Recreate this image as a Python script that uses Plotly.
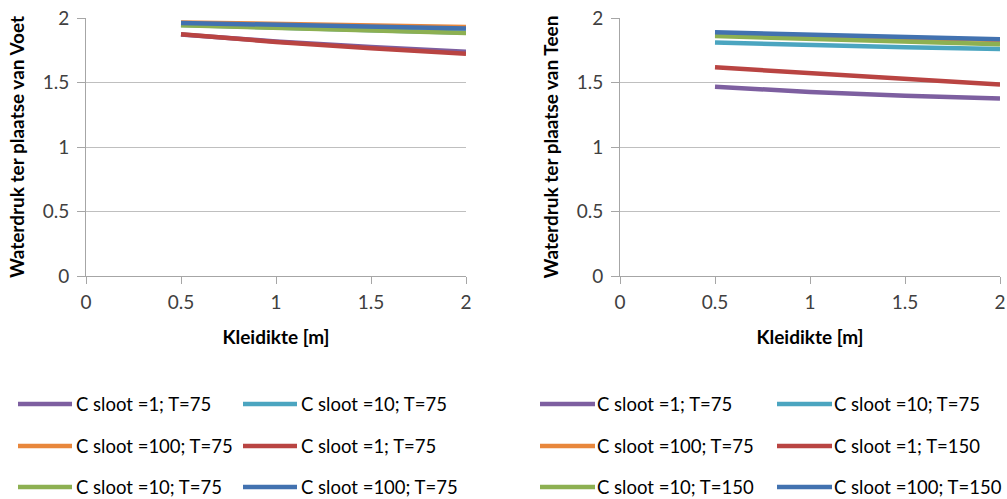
import plotly.graph_objects as go

# Kleidikte (clay thickness) in metres
kleidikte = [0.5, 1.0, 1.5, 2.0]

# Water pressure at the toe of the slope ("Voet")
voet_names = ["C sloot =1; T=75", "C sloot =10; T=75", "C sloot =100; T=75",
              "C sloot =1; T=75", "C sloot =10; T=75", "C sloot =100; T=75"]
voet_c1_a = [1.872, 1.818, 1.776, 1.738]
voet_c10_a = [1.945, 1.924, 1.904, 1.886]
voet_c100_a = [1.966, 1.954, 1.942, 1.931]
voet_c1_b = [1.874, 1.814, 1.765, 1.722]
voet_c10_b = [1.944, 1.923, 1.903, 1.884]
voet_c100_b = [1.962, 1.947, 1.932, 1.918]

# Water pressure at the heel ("Teen")
teen_names = ["C sloot =1; T=75", "C sloot =10; T=75", "C sloot =100; T=75",
              "C sloot =1; T=150", "C sloot =10; T=150", "C sloot =100; T=150"]
teen_c1_75 = [1.468, 1.426, 1.398, 1.376]
teen_c10_75 = [1.810, 1.790, 1.774, 1.760]
teen_c100_75 = [1.874, 1.858, 1.844, 1.830]
teen_c1_150 = [1.618, 1.572, 1.524, 1.484]
teen_c10_150 = [1.860, 1.838, 1.816, 1.797]
teen_c100_150 = [1.889, 1.870, 1.852, 1.835]

y_ticks = [0, 0.5, 1, 1.5, 2]
x_ticks = [0, 0.5, 1, 1.5, 2]

colors = ["#7D5FA0", "#4BA5C0", "#E8873C", "#B94442", "#8DB052", "#4272B0"]

voet_series = [voet_c1_a, voet_c10_a, voet_c100_a, voet_c1_b, voet_c10_b, voet_c100_b]
teen_series = [teen_c1_75, teen_c10_75, teen_c100_75, teen_c1_150, teen_c10_150, teen_c100_150]

W, H = 1007, 499
FONT = "Lato"


def px(x):
    return x / W


def py(y):
    return 1 - y / H


fig = go.Figure()

for vals, name, col in zip(voet_series, voet_names, colors):
    fig.add_trace(go.Scatter(x=kleidikte, y=vals, name=name, mode="lines",
                             line=dict(color=col, width=4.5),
                             xaxis="x", yaxis="y", showlegend=False))
for vals, name, col in zip(teen_series, teen_names, colors):
    fig.add_trace(go.Scatter(x=kleidikte, y=vals, name=name, mode="lines",
                             line=dict(color=col, width=4.5),
                             xaxis="x2", yaxis="y2", showlegend=False))

axis_common = dict(
    range=[0, 2], tickvals=x_ticks, ticks="outside", ticklen=7,
    tickcolor="#A6A6A6", linecolor="#A6A6A6", linewidth=1, showline=True,
    showgrid=False, zeroline=False, fixedrange=True, automargin=False,
    ticklabelstandoff=2,
    tickfont=dict(family=FONT, size=19, color="#404040"),
)
yaxis_common = dict(
    range=[0, 2], tickvals=y_ticks, ticks="outside", ticklen=8,
    tickcolor="#A6A6A6", linecolor="#A6A6A6", linewidth=1, showline=True,
    showgrid=True, gridcolor="#BFBFBF", gridwidth=1, zeroline=False,
    fixedrange=True, ticklabelstandoff=4, automargin=False,
    tickfont=dict(family=FONT, size=19, color="#404040"),
)

title_font = dict(family=FONT, size=19, color="#000000")

fig.update_layout(
    width=W, height=H,
    margin=dict(l=0, r=0, t=0, b=0),
    paper_bgcolor="white", plot_bgcolor="white",
    showlegend=False,
    xaxis=dict(domain=[px(86), px(466)], anchor="y",
               title=dict(text="<b>Kleidikte [m]</b>", font=title_font, standoff=18),
               **axis_common),
    yaxis=dict(domain=[py(276), py(18)], anchor="x",
               title=dict(text="<b>Waterdruk ter plaatse van Voet</b>", font=title_font, standoff=13),
               **yaxis_common),
    xaxis2=dict(domain=[px(620), px(1000)], anchor="y2",
                title=dict(text="<b>Kleidikte [m]</b>", font=title_font, standoff=18),
                **axis_common),
    yaxis2=dict(domain=[py(276), py(18)], anchor="x2",
                title=dict(text="<b>Waterdruk ter plaatse van Teen</b>", font=title_font, standoff=13),
                **yaxis_common),
)

# Legends below each chart: two columns, three rows
row_y = [404, 446, 487]


def add_legend(names, col_lines, col_text):
    for i, (name, col) in enumerate(zip(names, colors)):
        r, c = divmod(i, 2)
        x0, x1 = col_lines[c]
        y = row_y[r]
        fig.add_shape(type="line", xref="paper", yref="paper",
                      x0=px(x0), x1=px(x1), y0=py(y), y1=py(y),
                      line=dict(color=col, width=4.5))
        fig.add_annotation(x=px(col_text[c]), y=py(y), xref="paper", yref="paper",
                           text=name, showarrow=False, xanchor="left", yanchor="middle",
                           borderpad=0,
                           font=dict(family=FONT, size=18.5, color="#000000"))


add_legend(voet_names, [(18, 72), (243, 297)], [75, 300])
add_legend(teen_names, [(540, 595), (777, 832)], [596, 833])

fig.write_html("out.html")
